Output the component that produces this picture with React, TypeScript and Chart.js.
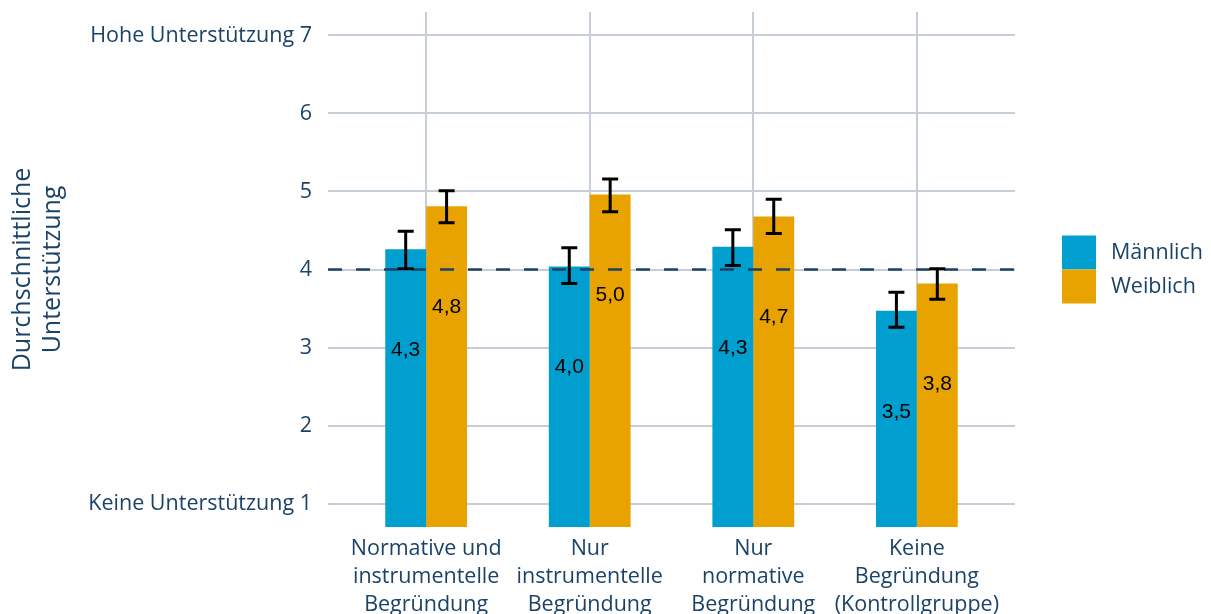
import React, { useEffect, useRef } from "react";
import { Chart, registerables } from "chart.js";

Chart.register(...registerables);

// ---- data ----
const categories: string[][] = [
  ["Normative und", "instrumentelle", "Begründung"],
  ["Nur", "instrumentelle", "Begründung"],
  ["Nur", "normative", "Begründung"],
  ["Keine", "Begründung", "(Kontrollgruppe)"],
];
const seriesNames = ["Männlich", "Weiblich"];
const maleValues = [4.26, 4.04, 4.29, 3.47];
const femaleValues = [4.81, 4.96, 4.68, 3.82];
const maleLower = [4.01, 3.82, 4.05, 3.26];
const maleUpper = [4.49, 4.28, 4.51, 3.71];
const femaleLower = [4.6, 4.74, 4.46, 3.62];
const femaleUpper = [5.01, 5.16, 4.9, 4.01];
const yTicks = [1, 2, 3, 4, 5, 6, 7];
const yTickLabels = [
  "Keine Unterstützung 1",
  "2",
  "3",
  "4",
  "5",
  "6",
  "Hohe Unterstützung 7",
];
const yTitle = ["Durchschnittliche", "Unterstützung"];
const referenceValue = 4;

// ---- style ----
const NAVY = "#1B4368";
const GRID = "#C6CFD7";
const BLUE = "#009FD0";
const ORANGE = "#E9A300";
const FONT = "'Open Sans', sans-serif";

const refLinePlugin = {
  id: "refLine",
  afterDatasetsDraw(chart: any) {
    const { ctx, chartArea, scales } = chart;
    const y = scales.y.getPixelForValue(referenceValue);
    ctx.save();
    ctx.strokeStyle = "#1A4166";
    ctx.lineWidth = 2.7;
    ctx.setLineDash([14, 14]);
    ctx.beginPath();
    ctx.moveTo(chartArea.left, y);
    ctx.lineTo(chartArea.right, y);
    ctx.stroke();
    ctx.restore();
  },
};

const errorBarPlugin = {
  id: "errorBars",
  afterDatasetsDraw(chart: any) {
    const { ctx, scales } = chart;
    ctx.save();
    ctx.strokeStyle = "#000000";
    ctx.lineWidth = 3;
    chart.data.datasets.forEach((ds: any, di: number) => {
      const meta = chart.getDatasetMeta(di);
      meta.data.forEach((bar: any, i: number) => {
        const lo = scales.y.getPixelForValue(ds.errLow[i]);
        const hi = scales.y.getPixelForValue(ds.errHigh[i]);
        const x = bar.x;
        const cap = 8;
        ctx.beginPath();
        ctx.moveTo(x, lo);
        ctx.lineTo(x, hi);
        ctx.moveTo(x - cap, lo);
        ctx.lineTo(x + cap, lo);
        ctx.moveTo(x - cap, hi);
        ctx.lineTo(x + cap, hi);
        ctx.stroke();
      });
    });
    ctx.restore();
  },
};

const dataLabelPlugin = {
  id: "dataLabels",
  afterDatasetsDraw(chart: any) {
    const { ctx } = chart;
    ctx.save();
    ctx.fillStyle = "#000000";
    ctx.font = "21px 'Liberation Sans', Arial, sans-serif";
    ctx.textAlign = "center";
    ctx.textBaseline = "middle";
    chart.data.datasets.forEach((ds: any, di: number) => {
      const meta = chart.getDatasetMeta(di);
      meta.data.forEach((bar: any, i: number) => {
        const v = ds.data[i].y as number;
        const txt = v.toFixed(1).replace(".", ",");
        ctx.fillText(txt, bar.x, bar.y + 101);
      });
    });
    ctx.restore();
  },
};

const legendPlugin = {
  id: "customLegend",
  afterDraw(chart: any) {
    const { ctx, chartArea } = chart;
    const box = 34;
    const n = chart.data.datasets.length;
    const x = chartArea.right + 47;
    const midY = (chartArea.top + chartArea.bottom) / 2;
    let y = midY - (n * box) / 2;
    ctx.save();
    ctx.font = `21.5px ${FONT}`;
    ctx.textBaseline = "middle";
    ctx.textAlign = "left";
    chart.data.datasets.forEach((ds: any) => {
      ctx.fillStyle = ds.backgroundColor;
      ctx.fillRect(x, y, box, box);
      ctx.fillStyle = NAVY;
      ctx.fillText(ds.label, x + box + 15, y + box / 2);
      y += box;
    });
    ctx.restore();
  },
};

export default function App() {
  const canvasRef = useRef<HTMLCanvasElement | null>(null);

  useEffect(() => {
    if (!canvasRef.current) return;
    const chart = new Chart(canvasRef.current, {
      type: "bar",
      data: {
        datasets: [
          {
            label: seriesNames[0],
            data: maleValues.map((v, i) => ({ x: i, y: v })),
            backgroundColor: BLUE,
            errLow: maleLower,
            errHigh: maleUpper,
          } as any,
          {
            label: seriesNames[1],
            data: femaleValues.map((v, i) => ({ x: i, y: v })),
            backgroundColor: ORANGE,
            errLow: femaleLower,
            errHigh: femaleUpper,
          } as any,
        ],
      },
      options: {
        animation: false,
        responsive: true,
        maintainAspectRatio: false,
        categoryPercentage: 0.5,
        barPercentage: 1,
        layout: { padding: { top: 4, right: 188, bottom: 0, left: 0 } },
        plugins: {
          legend: { display: false },
          tooltip: { enabled: false },
        },
        scales: {
          x: {
            type: "linear",
            min: -0.6,
            max: 3.6,
            offset: false,
            bounds: "data",
            grid: { offset: false, color: GRID, lineWidth: 2, drawTicks: false },
            border: { display: false },
            afterBuildTicks: (scale: any) => {
              scale.ticks = categories.map((_, i) => ({ value: i }));
            },
            afterFit: (scale: any) => {
              scale.height = 87;
              scale.paddingLeft = 0;
              scale.paddingRight = 0;
            },
            ticks: {
              autoSkip: false,
              maxRotation: 0,
              padding: 8,
              color: NAVY,
              font: { family: FONT, size: 21.5, lineHeight: 1.3 },
              callback: (v: any) => categories[v as number],
            },
          },
          y: {
            type: "linear",
            min: 0.7,
            max: 7.3,
            beginAtZero: false,
            grid: { color: GRID, lineWidth: 2, drawTicks: false },
            border: { display: false },
            afterBuildTicks: (scale: any) => {
              scale.ticks = yTicks.map((v) => ({ value: v }));
            },
            afterFit: (scale: any) => {
              scale.width = 320;
              scale.paddingTop = 0;
              scale.paddingBottom = 0;
            },
            ticks: {
              padding: 16,
              color: NAVY,
              font: { family: FONT, size: 21.5 },
              callback: (v: any) => yTickLabels[yTicks.indexOf(v as number)],
            },
            title: {
              display: true,
              text: yTitle,
              color: NAVY,
              font: { family: FONT, size: 25, lineHeight: 1.2 },
              padding: { top: 0, bottom: 0 },
            },
          },
        },
      } as any,
      plugins: [refLinePlugin, errorBarPlugin, dataLabelPlugin, legendPlugin],
    });
    return () => chart.destroy();
  }, []);

  return (
    <div style={{ position: "relative", width: 1195, height: 606, overflow: "visible" }}>
      <canvas ref={canvasRef} />
    </div>
  );
}
